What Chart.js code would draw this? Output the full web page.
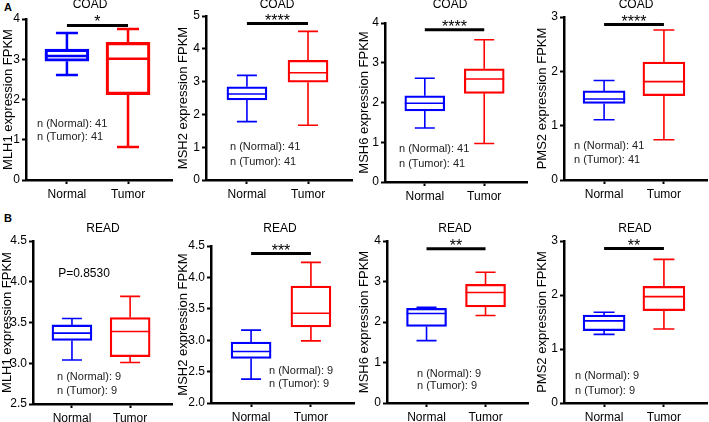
<!DOCTYPE html>
<html>
<head>
<meta charset="utf-8">
<script src="https://cdn.jsdelivr.net/npm/chart.js@4.4.0/dist/chart.umd.min.js"></script>
<style>
  body { margin: 0; background: #fff; }
  #wrap { position: relative; width: 709px; height: 422px; overflow: hidden; font-family: 'Liberation Sans', Arial, sans-serif; }
  #wrap canvas { position: absolute; }
  .tag { position: absolute; font-weight: bold; font-size: 11px; }
</style>
</head>
<body>
<div id="wrap">
  <div class="tag" style="left:4px;top:1px">A</div>
  <div class="tag" style="left:4px;top:212px">B</div>
</div>
<script>
const genes = ['MLH1', 'MSH2', 'MSH6', 'PMS2'];
const groups = ['Normal', 'Tumor'];

// box stats per gene: [min, q1, median, q3, max]
const coadNormal = [[2.61, 2.95, 3.08, 3.25, 3.65], [1.78, 2.44, 2.62, 2.84, 3.19], [1.36, 1.79, 1.98, 2.17, 2.61], [1.11, 1.41, 1.49, 1.64, 1.83]];
const coadTumor  = [[0.82, 2.12, 3.01, 3.42, 3.75], [1.67, 2.98, 3.27, 3.65, 4.53], [0.97, 2.23, 2.59, 2.85, 3.58], [0.74, 1.55, 1.81, 2.17, 2.76]];
const readNormal = [[3.04, 3.28, 3.37, 3.47, 3.55], [2.38, 2.71, 2.82, 2.97, 3.16], [1.54, 1.89, 2.21, 2.34, 2.36], [1.27, 1.34, 1.52, 1.63, 1.68]];
const readTumor  = [[3.01, 3.08, 3.39, 3.56, 3.82], [2.99, 3.21, 3.43, 3.86, 4.24], [2.16, 2.37, 2.73, 2.93, 3.23], [1.37, 1.71, 1.97, 2.16, 2.66]];

const coadSig  = ['*', '****', '****', '****'];
const coadSigY = [3.84, 4.77, 3.83, 2.86];
const readSig  = ['P=0.8530', '***', '**', '**'];
const readSigY = [null, 4.38, 3.81, 2.86];

const coadN = [41, 41];
const readN = [9, 9];

const coadYMin = [0, 0, 0, 0];
const coadYMax = [4, 5, 4, 3];
const coadYStep = [1, 1, 1, 1];
const readYMin = [2.5, 2.0, 0, 0];
const readYMax = [4.5, 4.5, 4, 3];
const readYStep = [0.5, 0.5, 1, 1];

const FONT = "'Liberation Sans', Arial, sans-serif";
const COLORS = ['#0000ff', '#ff0000'];

// panel placement (canvas box, axis widths, text offsets)
const slots = [
  { x: 0,   y: 0,   w: 175, h: 210, pl: 1,   yw: 25,   pt: 19, pr: 3, xh: 30, tx: 90,  ty: 5,  nx: 11, ny: [56, 43], box: 44, lw: 2.5 },
  { x: 175, y: 0,   w: 180, h: 210, pl: 1,   yw: 30,   pt: 16, pr: 3, xh: 30, tx: 102, ty: 5,  nx: 24, ny: [33, 18], box: 40, lw: 1.6 },
  { x: 355, y: 0,   w: 177, h: 210, pl: 2,   yw: 28,   pt: 23, pr: 5, xh: 28, tx: 95,  ty: 5,  nx: 14, ny: [33, 18], box: 40, lw: 1.6 },
  { x: 532, y: 0,   w: 177, h: 210, pl: 2.5, yw: 29.5, pt: 17, pr: 2, xh: 30, tx: 104, ty: 5,  nx: 10, ny: [34, 20], box: 42, lw: 1.6 },
  { x: 0,   y: 210, w: 175, h: 212, pl: 0,   yw: 33,   pt: 31, pr: 3, xh: 18, tx: 103, ty: 19, nx: 24, ny: [27, 13], box: 40, lw: 1.6, px: 51, py: 33 },
  { x: 175, y: 210, w: 180, h: 212, pl: 1,   yw: 35,   pt: 36, pr: 1, xh: 19, tx: 105, ty: 19, nx: 58, ny: [32, 19], box: 40, lw: 1.6 },
  { x: 355, y: 210, w: 177, h: 212, pl: 2,   yw: 30,   pt: 31, pr: 4, xh: 19, tx: 100, ty: 19, nx: 30, ny: [29, 17], box: 40, lw: 1.6 },
  { x: 532, y: 210, w: 177, h: 212, pl: 2.5, yw: 29.5, pt: 31, pr: 2, xh: 19, tx: 103, ty: 19, nx: 11, ny: [27, 12], box: 42, lw: 1.6 }
];

// whiskers, medians, titles and annotations
function makeExtras(p, slot) {
  return {
    id: 'boxExtras',
    afterDatasetsDraw(chart) {
      const { ctx, chartArea } = chart;
      const xs = chart.scales.x, ys = chart.scales.y;
      const meta = chart.getDatasetMeta(0);
      ctx.save();
      [p.normal, p.tumor].forEach((s, i) => {
        const cx = xs.getPixelForValue(i);
        const half = meta.data[i].width / 2;
        const cap = half / 2;
        const py = v => ys.getPixelForValue(v);
        ctx.strokeStyle = COLORS[i];
        ctx.lineWidth = slot.lw;
        ctx.beginPath();
        ctx.moveTo(cx - half, py(s[2])); ctx.lineTo(cx + half, py(s[2]));
        ctx.moveTo(cx, py(s[3])); ctx.lineTo(cx, py(s[4]));
        ctx.moveTo(cx, py(s[1])); ctx.lineTo(cx, py(s[0]));
        ctx.moveTo(cx - cap, py(s[4])); ctx.lineTo(cx + cap, py(s[4]));
        ctx.moveTo(cx - cap, py(s[0])); ctx.lineTo(cx + cap, py(s[0]));
        ctx.stroke();
      });

      ctx.fillStyle = '#000';
      ctx.textAlign = 'center';
      ctx.textBaseline = 'middle';
      ctx.font = '12px ' + FONT;
      ctx.fillText(p.title, slot.tx, slot.ty);

      if (p.sigY != null) {
        ctx.font = '16px ' + FONT;
        ctx.textBaseline = 'alphabetic';
        ctx.fillText(p.sig, (xs.getPixelForValue(0) + xs.getPixelForValue(1)) / 2, ys.getPixelForValue(p.sigY) + 2);
      } else {
        ctx.font = '12px ' + FONT;
        ctx.fillText(p.sig, chartArea.left + slot.px, chartArea.top + slot.py);
      }

      ctx.font = '11px ' + FONT;
      ctx.fillStyle = '#222';
      ctx.textAlign = 'left';
      ctx.textBaseline = 'middle';
      ctx.fillText('n (Normal): ' + p.n[0], chartArea.left + slot.nx, chartArea.bottom - slot.ny[0]);
      ctx.fillText('n (Tumor): ' + p.n[1], chartArea.left + slot.nx, chartArea.bottom - slot.ny[1]);
      ctx.restore();
    }
  };
}

const panels = [];
genes.forEach((g, i) => panels.push({
  title: 'COAD', gene: g, normal: coadNormal[i], tumor: coadTumor[i],
  sig: coadSig[i], sigY: coadSigY[i], n: coadN,
  min: coadYMin[i], max: coadYMax[i], step: coadYStep[i]
}));
genes.forEach((g, i) => panels.push({
  title: 'READ', gene: g, normal: readNormal[i], tumor: readTumor[i],
  sig: readSig[i], sigY: readSigY[i], n: readN,
  min: readYMin[i], max: readYMax[i], step: readYStep[i]
}));

const wrap = document.getElementById('wrap');

panels.forEach((p, k) => {
  const slot = slots[k];
  const canvas = document.createElement('canvas');
  canvas.width = slot.w;
  canvas.height = slot.h;
  canvas.style.left = slot.x + 'px';
  canvas.style.top = slot.y + 'px';
  wrap.appendChild(canvas);

  const datasets = [{
    type: 'bar',
    data: [{ x: 0, y: [p.normal[1], p.normal[3]] }, { x: 1, y: [p.tumor[1], p.tumor[3]] }],
    backgroundColor: 'rgba(0,0,0,0)',
    borderColor: COLORS,
    borderWidth: slot.lw,
    borderSkipped: false,
    barThickness: slot.box
  }];
  if (p.sigY != null) {
    datasets.push({
      type: 'line',
      data: [{ x: 0, y: p.sigY }, { x: 1, y: p.sigY }],
      borderColor: '#000',
      borderWidth: 3,
      pointRadius: 0
    });
  }

  const decimals = p.step < 1 ? 1 : 0;

  new Chart(canvas.getContext('2d'), {
    type: 'bar',
    data: { datasets },
    plugins: [makeExtras(p, slot)],
    options: {
      responsive: false,
      animation: false,
      layout: { padding: { left: slot.pl, top: slot.pt, right: slot.pr, bottom: 0 } },
      plugins: { legend: { display: false }, tooltip: { enabled: false } },
      scales: {
        x: {
          type: 'linear',
          offset: false,
          min: -0.67,
          max: 1.72,
          afterBuildTicks: s => { s.ticks = [{ value: 0 }, { value: 1 }]; },
          afterFit: s => { s.height = slot.xh; },
          ticks: { color: '#000', font: { family: FONT, size: 12 }, padding: 3, callback: v => groups[v] },
          grid: { offset: false, drawOnChartArea: false, tickLength: 4, tickWidth: 2, tickColor: '#000' },
          border: { color: '#000', width: 2.5 }
        },
        y: {
          min: p.min,
          max: p.max,
          afterFit: s => { s.width = slot.yw; },
          ticks: { stepSize: p.step, color: '#000', font: { family: FONT, size: 12 }, padding: 2,
            callback: v => Number(v).toFixed(decimals) },
          grid: { drawOnChartArea: false, tickLength: 4, tickWidth: 2, tickColor: '#000' },
          border: { color: '#000', width: 2.5 },
          title: { display: true, text: p.gene + ' expression FPKM', color: '#000', font: { family: FONT, size: 13 }, padding: 0 }
        }
      }
    }
  });
});
</script>
</body>
</html>
